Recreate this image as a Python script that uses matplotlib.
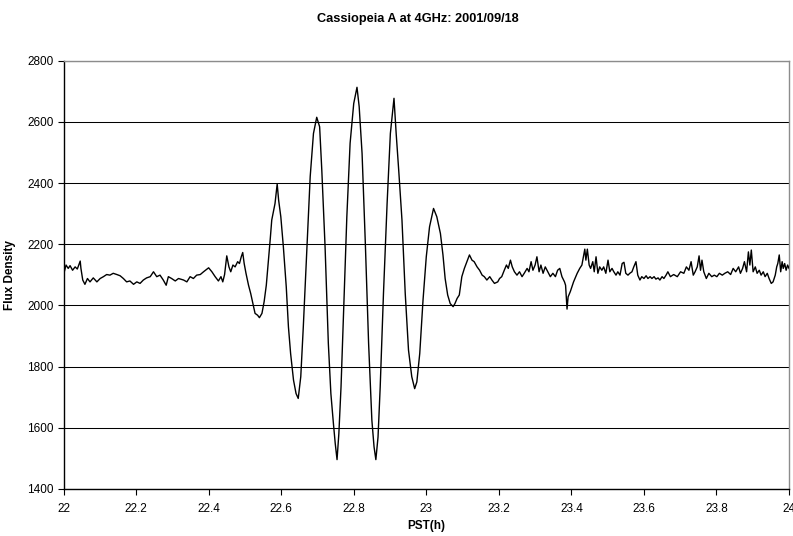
import matplotlib
matplotlib.use("Agg")
import matplotlib.pyplot as plt

plt.rcParams['font.family'] = ['Liberation Sans', 'DejaVu Sans']

# drift scan, time in hours PST and measured flux density
pst_h = [
    22.001, 22.007, 22.013, 22.018, 22.025, 22.032, 22.038, 22.046, 22.048, 22.053,
    22.059, 22.066, 22.073, 22.082, 22.092, 22.101, 22.110, 22.119, 22.128, 22.137,
    22.147, 22.156, 22.165, 22.174, 22.183, 22.193, 22.202, 22.211, 22.220, 22.229,
    22.239, 22.248, 22.257, 22.266, 22.275, 22.283, 22.289, 22.298, 22.308, 22.317,
    22.331, 22.340, 22.349, 22.358, 22.367, 22.377, 22.386, 22.400, 22.409, 22.418,
    22.427, 22.434, 22.439, 22.444, 22.450, 22.456, 22.461, 22.467, 22.473, 22.480,
    22.485, 22.490, 22.494, 22.498, 22.503, 22.510, 22.516, 22.522, 22.528, 22.535,
    22.540, 22.547, 22.553, 22.559, 22.565, 22.570,
    22.574, 22.583, 22.589, 22.593, 22.599, 22.606, 22.614, 22.620, 22.626, 22.634,
    22.641, 22.647, 22.654, 22.661, 22.671, 22.680, 22.689, 22.698, 22.706, 22.712,
    22.721, 22.730, 22.737, 22.744, 22.749, 22.754, 22.759, 22.765, 22.772, 22.781,
    22.790, 22.800, 22.809, 22.815, 22.823, 22.832, 22.841, 22.850, 22.856, 22.861,
    22.867, 22.873, 22.882, 22.892, 22.901, 22.911, 22.917, 22.924, 22.933, 22.942,
    22.951, 22.960, 22.968, 22.974, 22.982, 22.991, 23.000, 23.009, 23.020, 23.029,
    23.039,
    23.046, 23.052, 23.059, 23.066, 23.074, 23.079, 23.085, 23.091, 23.098, 23.105,
    23.112, 23.119, 23.126, 23.132, 23.140, 23.147, 23.154, 23.160, 23.167, 23.175,
    23.181, 23.188, 23.197, 23.202, 23.208, 23.215, 23.221, 23.226, 23.232, 23.237,
    23.243, 23.250, 23.257, 23.264, 23.270, 23.278, 23.283, 23.289, 23.294, 23.300,
    23.305, 23.311, 23.316, 23.322, 23.328, 23.335, 23.342, 23.349, 23.356, 23.362,
    23.368, 23.374, 23.381, 23.384, 23.388, 23.391, 23.397,
    23.406, 23.416, 23.423, 23.429, 23.434, 23.437, 23.440, 23.444, 23.449, 23.453,
    23.459, 23.463, 23.468, 23.473, 23.478, 23.484, 23.489, 23.495, 23.501, 23.506,
    23.512, 23.517, 23.523, 23.528, 23.534, 23.540, 23.545, 23.550, 23.556, 23.561,
    23.567, 23.572, 23.578, 23.583, 23.589, 23.594, 23.600, 23.606, 23.611, 23.617,
    23.622, 23.628, 23.633, 23.639, 23.644, 23.650, 23.655, 23.661, 23.666,
    23.673, 23.682, 23.692, 23.701, 23.710, 23.717, 23.724, 23.730, 23.736, 23.741,
    23.747, 23.752, 23.756, 23.760, 23.765, 23.772, 23.779, 23.787, 23.794, 23.801,
    23.808, 23.816, 23.823, 23.831, 23.839, 23.846, 23.853, 23.861, 23.866, 23.872,
    23.877, 23.883, 23.888, 23.892, 23.896, 23.901, 23.907, 23.912, 23.918, 23.923,
    23.929, 23.934, 23.940, 23.945, 23.951, 23.956, 23.962, 23.966, 23.969, 23.973,
    23.977, 23.981, 23.984, 23.988, 23.992, 23.996, 24.000,
]

flux = [
    2105, 2132, 2121, 2130, 2115, 2126, 2119, 2145, 2121, 2083,
    2069, 2088, 2077, 2090, 2077, 2088, 2094, 2101, 2099, 2105,
    2101, 2097, 2088, 2077, 2080, 2069, 2077, 2072, 2083, 2090,
    2094, 2110, 2094, 2099, 2083, 2066, 2094, 2088, 2080, 2088,
    2083, 2077, 2094, 2088, 2099, 2101, 2110, 2123, 2110, 2094,
    2080, 2094, 2077, 2101, 2162, 2126, 2110, 2132, 2126, 2143,
    2137, 2159, 2173, 2137, 2105, 2066, 2039, 2006, 1974, 1968,
    1960, 1974, 2012, 2066, 2148, 2219,
    2279, 2333, 2397, 2344, 2290, 2192, 2061, 1930, 1843, 1756,
    1712, 1696, 1767, 1930, 2192, 2421, 2562, 2615, 2584, 2442,
    2192, 1876, 1712, 1614, 1549, 1496, 1581, 1734, 1974, 2290,
    2530, 2660, 2713, 2650, 2497, 2203, 1876, 1625, 1538, 1496,
    1570, 1734, 2039, 2333, 2562, 2677, 2562, 2442, 2279, 2039,
    1854, 1767, 1728, 1750, 1843, 2017, 2159, 2257, 2317, 2290,
    2235,
    2165, 2088, 2034, 2006, 1996, 2006, 2023, 2034, 2094, 2121,
    2143, 2165, 2148, 2143, 2126, 2115, 2099, 2094, 2083, 2094,
    2083, 2072, 2077, 2088, 2094, 2115, 2132, 2121, 2148, 2126,
    2110, 2099, 2110, 2094, 2105, 2121, 2110, 2143, 2115, 2132,
    2159, 2110, 2132, 2105, 2126, 2110, 2094, 2105, 2094, 2115,
    2121, 2094, 2077, 2066, 1988, 2028, 2045,
    2077, 2105, 2121, 2132, 2165, 2184, 2148, 2184, 2132, 2121,
    2143, 2110, 2159, 2105, 2126, 2115, 2126, 2105, 2148, 2110,
    2121, 2110, 2099, 2110, 2099, 2137, 2141, 2105, 2099, 2105,
    2110, 2126, 2143, 2099, 2083, 2094, 2088, 2097, 2088, 2094,
    2088, 2094, 2086, 2090, 2083, 2094, 2088, 2099, 2110,
    2094, 2101, 2094, 2110, 2105, 2126, 2115, 2143, 2099, 2110,
    2126, 2162, 2115, 2148, 2110, 2088, 2105, 2094, 2099, 2094,
    2105, 2099, 2105, 2110, 2101, 2121, 2110, 2126, 2105, 2121,
    2143, 2110, 2175, 2132, 2181, 2110, 2126, 2105, 2115, 2099,
    2110, 2094, 2105, 2088, 2072, 2077, 2099, 2126, 2137, 2165,
    2110, 2143, 2121, 2137, 2115, 2132, 2121,
]

x_ticks = [22, 22.2, 22.4, 22.6, 22.8, 23, 23.2, 23.4, 23.6, 23.8, 24]
x_ticklabels = ['22', '22.2', '22.4', '22.6', '22.8', '23', '23.2', '23.4', '23.6', '23.8', '24']
y_ticks = [1400, 1600, 1800, 2000, 2200, 2400, 2600, 2800]

fig = plt.figure(figsize=(7.93, 5.36), dpi=100)
ax = fig.add_axes([0.0801, 0.0877, 0.9149, 0.7991])

ax.plot(pst_h, flux, color='black', linewidth=1.0, zorder=3)

ax.set_xlim(22, 24)
ax.set_ylim(1400, 2800)
ax.set_xticks(x_ticks)
ax.set_xticklabels(x_ticklabels)
ax.set_yticks(y_ticks)
ax.yaxis.grid(True, color='black', linewidth=0.75)
ax.set_axisbelow(True)

for side in ['left', 'bottom']:
    ax.spines[side].set_color('black')
    ax.spines[side].set_linewidth(1.0)
for side in ['top', 'right']:
    ax.spines[side].set_color('#8c8c8c')
    ax.spines[side].set_linewidth(1.0)

ax.tick_params(axis='both', direction='out', length=4, width=0.8, labelsize=8.5,
               colors='black')
ax.tick_params(axis='x', pad=6)
ax.tick_params(axis='y', pad=3)

ax.set_title('Cassiopeia A at 4GHz: 2001/09/18', fontsize=9.2, fontweight='bold',
             x=0.488, pad=28)
ax.set_xlabel('PST(h)', fontsize=8.5, fontweight='bold', labelpad=4)
ax.set_ylabel('Flux Density', fontsize=8.5, fontweight='bold', labelpad=8)

fig.savefig('out.png', dpi=100)
